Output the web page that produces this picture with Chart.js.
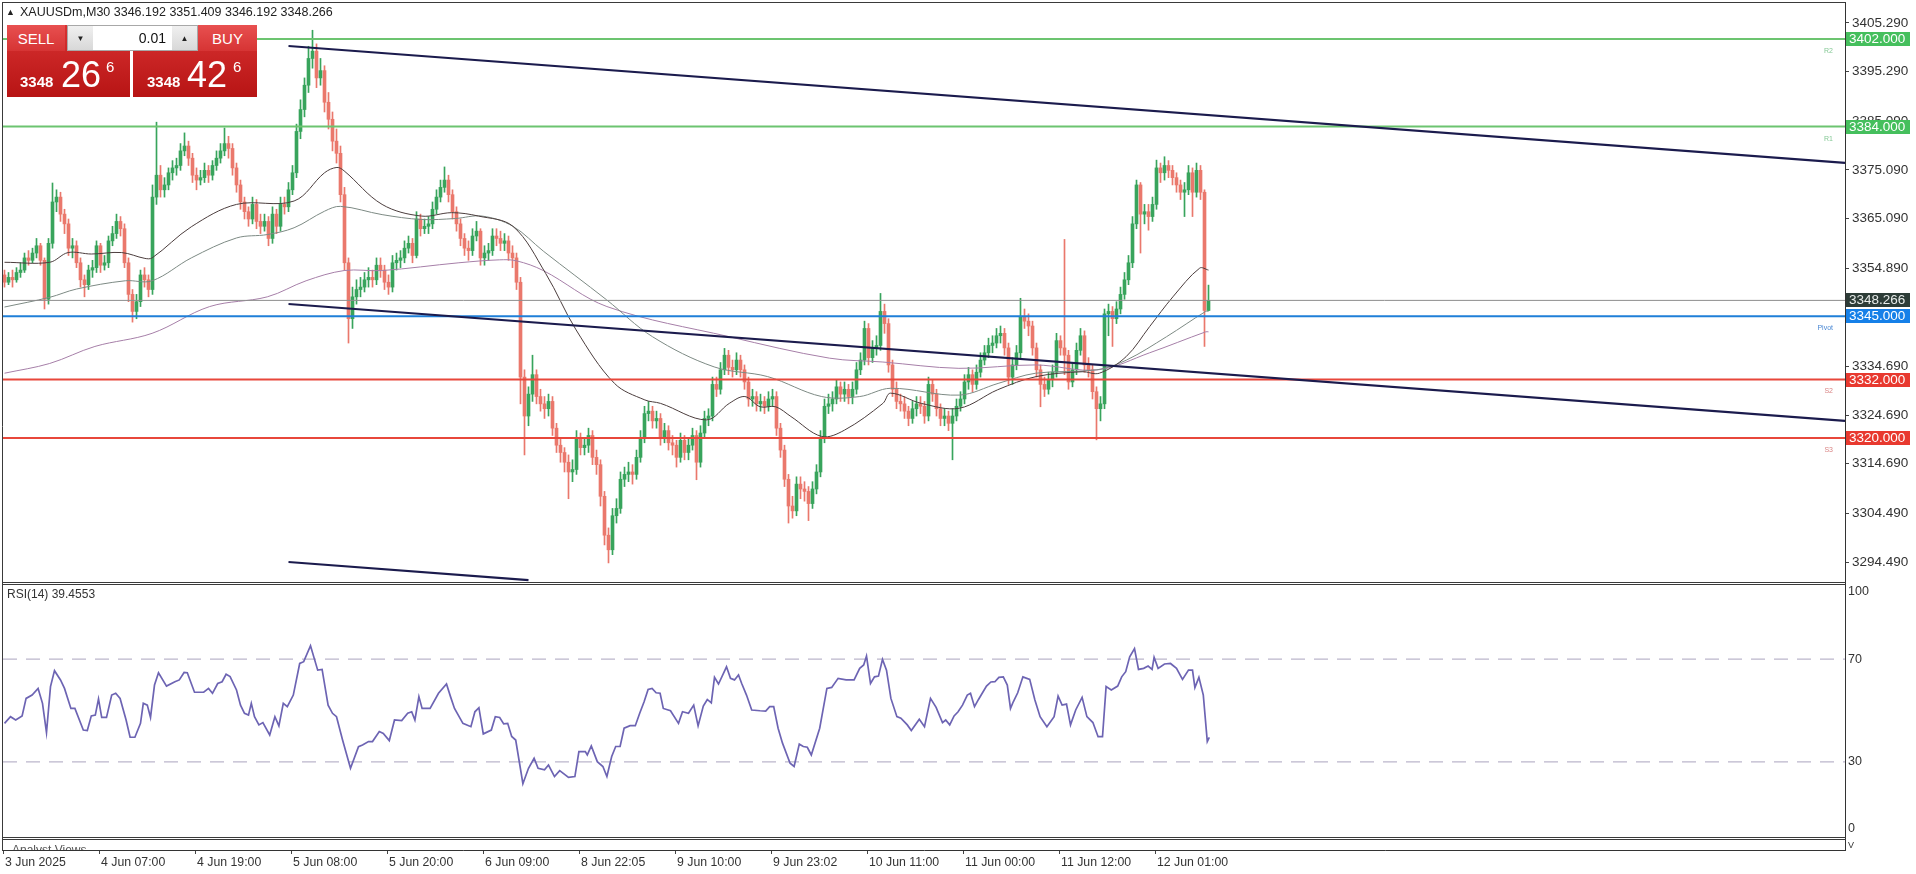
<!DOCTYPE html>
<html>
<head>
<meta charset="utf-8">
<script src="https://cdn.jsdelivr.net/npm/chart.js@4.4.1/dist/chart.umd.min.js"></script>
<style>
html,body{margin:0;padding:0;background:#fff;}
#wrap{position:relative;width:1916px;height:874px;overflow:hidden;font-family:"Liberation Sans",Arial,sans-serif;}
#c{position:absolute;left:0;top:0;width:1916px;height:874px;}
.abs{position:absolute;white-space:nowrap;line-height:1;}
.lab{position:absolute;background:linear-gradient(#e85050,#d63434);color:#fff;font-size:15px;display:flex;align-items:center;justify-content:center;}
.blk{position:absolute;background:linear-gradient(#d83232,#b71414);}
.lot{position:absolute;left:67px;top:25px;width:129px;height:24px;border:1px solid #a8a8a8;background:#fff;}
.btn{position:absolute;top:0;width:25px;height:24px;background:linear-gradient(#f0f0f0,#d8d8d8);font-size:8px;color:#222;display:flex;align-items:center;justify-content:center;}
</style>
</head>
<body>
<div id="wrap">
<canvas id="c" width="1916" height="874"></canvas>
<div class="abs" style="left:6px;top:8px;font-size:9px;color:#222;">▲</div>
<div class="abs" id="hdr" style="left:20px;top:6px;font-size:12.5px;color:#222;"></div>

<div class="blk" style="left:7px;top:25px;width:123px;height:72px;"></div>
<div class="lab" style="left:7px;top:25px;width:58px;height:26px;">SELL</div>
<div class="blk" style="left:133px;top:25px;width:124px;height:72px;"></div>
<div class="lab" style="left:198px;top:25px;width:59px;height:26px;">BUY</div>
<div class="lot">
  <div class="btn" style="left:0;">▼</div>
  <div class="abs" style="left:28px;width:70px;top:5px;text-align:right;font-size:14px;color:#111;">0.01</div>
  <div class="btn" style="left:104px;">▲</div>
</div>
<div class="abs" style="left:20px;top:74px;font-size:15px;font-weight:bold;color:#fff;">3348</div>
<div class="abs" style="left:61px;top:57px;font-size:36px;color:#fff;">26</div>
<div class="abs" style="left:106px;top:59px;font-size:15px;color:#fff;">6</div>
<div class="abs" style="left:147px;top:74px;font-size:15px;font-weight:bold;color:#fff;">3348</div>
<div class="abs" style="left:187px;top:57px;font-size:36px;color:#fff;">42</div>
<div class="abs" style="left:233px;top:59px;font-size:15px;color:#fff;">6</div>

<div class="abs" style="left:7px;top:588px;font-size:12px;color:#333;">RSI(14) 39.4553</div>
<div class="abs" style="left:3px;top:841px;width:1840px;height:9px;overflow:hidden;">
  <div class="abs" style="left:9px;top:3px;font-size:12px;color:#555;">Analyst Views</div>
</div>
</div>

<script>
// ---------------- DATA ----------------
const symbolInfo = "XAUUSDm,M30 3346.192 3351.409 3346.192 3348.266";

const timeLabels = ["3 Jun 2025","4 Jun 07:00","4 Jun 19:00","5 Jun 08:00","5 Jun 20:00","6 Jun 09:00","8 Jun 22:05","9 Jun 10:00","9 Jun 23:02","10 Jun 11:00","11 Jun 00:00","11 Jun 12:00","12 Jun 01:00"];
const timeTickBars = [0,24,48,72,96,120,144,168,192,216,240,264,288];

const priceTicks = [3405.29,3395.29,3385.09,3375.09,3365.09,3354.89,3344.79,3334.69,3324.69,3314.69,3304.49,3294.49];

const opens = [
3353.5,3352.0,3353.0,3352.5,3354.0,3354.5,3357.0,3356.5,3358.0,3359.5,
3356.5,3348.5,3360.0,3368.5,3369.5,3366.0,3364.0,3359.0,3359.5,3356.0,
3352.5,3351.5,3354.5,3355.0,3359.5,3355.5,3356.0,3360.5,3362.0,3364.5,
3363.0,3356.0,3349.5,3346.0,3348.0,3353.5,3352.5,3350.5,3369.5,3374.0,
3371.0,3372.0,3374.5,3375.5,3376.0,3379.0,3380.0,3377.5,3374.0,3373.0,
3373.5,3375.0,3374.0,3376.0,3377.5,3379.0,3380.5,3379.5,3375.5,3372.0,
3368.5,3366.5,3365.0,3368.0,3364.5,3363.5,3364.5,3361.0,3366.0,3363.5,
3368.0,3367.5,3371.0,3374.5,3383.0,3387.5,3392.5,3398.0,3399.5,3394.0,
3395.5,3389.0,3385.5,3381.0,3378.5,3370.0,3356.0,3344.5,3349.0,3350.5,
3351.0,3352.5,3353.0,3352.5,3355.5,3354.5,3352.0,3351.0,3356.0,3356.5,
3357.0,3359.0,3360.0,3357.5,3365.0,3363.0,3363.5,3364.0,3367.0,3369.5,
3371.5,3373.0,3370.0,3366.5,3364.0,3361.0,3359.0,3358.5,3361.5,3362.5,
3357.0,3358.0,3358.5,3361.5,3361.0,3360.0,3360.5,3358.0,3357.0,3352.0,
3332.5,3324.5,3329.0,3333.0,3328.5,3327.0,3326.0,3327.5,3322.0,3318.5,
3317.0,3315.0,3313.0,3313.5,3320.0,3318.0,3318.5,3320.5,3316.0,3314.5,
3308.0,3300.0,3297.0,3304.0,3305.5,3311.5,3312.5,3313.0,3312.5,3316.0,
3320.0,3325.0,3325.5,3323.5,3324.0,3320.0,3321.5,3319.0,3318.5,3316.0,
3319.5,3317.0,3318.5,3320.5,3315.0,3321.0,3324.0,3324.5,3331.0,3330.0,
3334.0,3337.0,3334.5,3334.0,3336.0,3334.0,3331.5,3328.0,3328.5,3327.0,
3327.5,3326.5,3328.0,3328.5,3322.0,3317.5,3311.5,3306.0,3305.0,3310.5,
3309.5,3309.0,3306.5,3309.5,3313.0,3320.0,3326.5,3327.0,3328.0,3330.5,
3329.0,3330.0,3328.5,3330.0,3334.0,3336.0,3342.5,3336.5,3338.5,3339.0,
3346.0,3343.5,3335.0,3330.0,3327.5,3327.0,3325.5,3324.0,3326.0,3327.0,
3326.5,3324.5,3331.0,3329.0,3326.0,3324.0,3324.5,3323.0,3324.5,3326.5,
3328.0,3331.5,3333.0,3331.0,3333.5,3336.0,3337.5,3339.0,3339.5,3341.0,
3341.5,3338.5,3332.5,3335.0,3337.5,3345.0,3344.0,3343.0,3338.5,3334.0,
3331.0,3330.0,3332.0,3333.5,3340.0,3338.5,3337.0,3331.5,3334.0,3338.0,
3341.0,3335.0,3334.0,3329.5,3326.0,3327.0,3345.5,3346.0,3344.5,3346.5,
3349.5,3352.5,3356.0,3364.0,3372.0,3366.0,3366.5,3365.5,3368.0,3375.5,
3374.5,3376.0,3375.0,3373.5,3372.0,3370.5,3371.0,3374.5,3370.5,3375.0,
3370.5,3346.192];

const highs = [
3354.5,3354.0,3354.5,3355.0,3356.0,3358.0,3358.5,3359.0,3361.0,3360.0,
3357.0,3361.0,3372.4,3371.0,3370.5,3367.0,3365.0,3361.0,3360.5,3357.0,
3353.5,3355.5,3356.5,3360.5,3360.0,3357.5,3361.5,3363.5,3366.0,3365.5,
3364.0,3357.0,3350.5,3349.5,3354.5,3355.0,3353.5,3372.0,3384.9,3376.0,
3373.5,3375.5,3377.0,3377.5,3380.5,3382.7,3381.0,3378.5,3375.5,3375.0,
3376.5,3376.0,3377.0,3379.0,3380.5,3383.7,3382.0,3380.5,3376.5,3373.0,
3369.5,3367.5,3369.5,3369.0,3366.0,3366.0,3365.5,3367.5,3367.0,3369.5,
3369.5,3372.5,3376.0,3384.5,3389.5,3394.0,3400.5,3403.8,3401.0,3398.0,
3396.5,3391.0,3387.0,3383.5,3380.0,3371.5,3357.0,3351.0,3352.5,3353.0,
3354.0,3355.0,3354.5,3357.0,3357.0,3355.5,3353.5,3357.5,3358.0,3358.5,
3360.5,3361.5,3361.0,3366.5,3366.0,3365.0,3365.5,3368.5,3371.0,3373.0,
3375.7,3374.0,3371.0,3367.5,3365.0,3362.0,3360.5,3363.0,3364.5,3363.0,
3359.5,3360.0,3363.0,3363.0,3362.5,3362.0,3361.5,3359.5,3358.0,3353.0,
3334.0,3330.5,3337.0,3334.0,3330.0,3328.5,3329.0,3328.5,3323.0,3320.0,
3318.0,3316.5,3315.5,3321.5,3321.0,3320.0,3322.0,3321.5,3317.5,3315.5,
3309.0,3301.5,3305.5,3307.5,3313.0,3314.0,3315.0,3314.5,3317.5,3321.5,
3326.5,3327.5,3326.5,3325.5,3325.0,3323.0,3322.5,3320.5,3319.5,3321.0,
3320.5,3320.0,3322.0,3321.5,3322.5,3325.5,3326.0,3332.5,3332.5,3335.5,
3338.4,3338.0,3336.0,3337.5,3337.0,3335.0,3332.5,3330.0,3329.5,3329.0,
3328.5,3329.5,3330.0,3329.5,3323.0,3318.5,3312.5,3308.0,3312.0,3312.0,
3311.0,3310.0,3311.0,3314.5,3321.5,3328.0,3329.0,3329.5,3332.0,3331.5,
3331.5,3331.0,3331.5,3335.5,3337.5,3344.0,3343.5,3340.0,3341.0,3349.7,
3347.5,3344.5,3336.0,3331.5,3329.0,3328.5,3326.5,3327.5,3328.5,3328.5,
3327.5,3332.5,3332.0,3330.0,3327.0,3326.0,3325.5,3326.0,3328.0,3329.5,
3333.0,3334.5,3334.0,3335.0,3337.5,3339.0,3340.5,3341.0,3342.5,3343.0,
3342.5,3339.5,3336.5,3339.0,3348.7,3346.5,3345.5,3344.0,3339.5,3335.0,
3332.5,3333.5,3335.0,3341.5,3341.0,3360.8,3338.0,3335.5,3339.5,3342.5,
3342.0,3336.5,3335.0,3330.5,3328.5,3346.5,3347.5,3347.0,3348.0,3351.0,
3354.0,3357.5,3365.5,3373.0,3372.5,3368.0,3368.0,3369.5,3377.1,3376.5,
3377.8,3377.0,3376.0,3374.5,3373.0,3372.5,3376.0,3375.5,3376.5,3376.0,
3371.0,3351.409];

const lows = [
3351.0,3351.5,3351.0,3352.0,3353.0,3354.0,3355.5,3356.0,3357.0,3355.5,
3346.5,3347.5,3359.0,3366.5,3364.5,3362.0,3357.5,3357.0,3355.0,3351.0,
3349.0,3350.5,3353.0,3354.0,3354.0,3354.5,3355.0,3359.5,3361.0,3361.5,
3355.0,3348.0,3343.8,3344.5,3347.0,3351.0,3349.0,3349.5,3368.0,3369.5,
3369.5,3371.0,3373.0,3374.0,3375.0,3378.0,3376.0,3372.5,3371.0,3372.0,
3372.5,3372.5,3373.0,3375.0,3376.5,3378.0,3377.5,3374.0,3370.5,3367.0,
3365.0,3363.5,3364.0,3363.0,3362.0,3362.5,3359.5,3360.0,3362.0,3362.5,
3366.0,3366.5,3370.0,3373.5,3381.5,3386.0,3391.0,3396.0,3392.0,3392.5,
3387.0,3383.5,3379.0,3376.5,3368.5,3354.5,3339.5,3342.5,3347.5,3349.0,
3350.0,3351.0,3351.0,3351.5,3353.0,3350.5,3349.5,3350.0,3354.5,3355.0,
3356.0,3358.0,3356.0,3357.0,3361.5,3362.0,3362.0,3363.0,3366.0,3368.5,
3370.5,3368.5,3365.0,3362.5,3359.5,3357.5,3356.5,3357.5,3360.5,3355.5,
3355.5,3356.5,3357.5,3359.5,3358.5,3358.5,3356.5,3355.0,3350.5,3327.0,
3316.5,3322.5,3327.5,3327.0,3325.5,3324.0,3324.5,3320.5,3317.0,3315.0,
3313.0,3307.5,3311.0,3312.5,3316.5,3316.5,3317.0,3314.5,3312.5,3306.0,
3298.0,3294.3,3296.0,3302.5,3304.5,3310.0,3311.0,3310.5,3311.5,3315.0,
3319.0,3323.5,3322.0,3322.0,3318.5,3319.0,3317.5,3316.5,3314.0,3315.0,
3315.5,3315.5,3317.5,3311.4,3314.0,3320.0,3322.5,3323.5,3328.5,3329.0,
3333.0,3333.0,3332.5,3333.0,3332.5,3330.0,3326.5,3326.5,3325.5,3325.5,
3325.0,3325.5,3326.5,3320.5,3316.0,3310.0,3302.5,3303.5,3304.0,3307.5,
3307.0,3303.0,3305.5,3308.5,3312.0,3319.0,3325.0,3325.5,3327.0,3327.5,
3327.5,3327.0,3327.0,3329.0,3333.0,3335.0,3335.0,3335.5,3337.0,3338.0,
3341.5,3333.5,3328.5,3326.0,3325.5,3324.0,3322.5,3323.0,3324.5,3325.0,
3323.0,3323.5,3327.5,3324.5,3322.5,3322.5,3321.5,3315.5,3323.5,3325.5,
3327.0,3330.0,3329.5,3330.0,3332.5,3335.0,3336.5,3337.5,3338.5,3339.5,
3337.0,3331.0,3331.0,3334.0,3336.5,3342.5,3341.0,3337.0,3332.5,3326.4,
3328.5,3329.0,3330.5,3332.5,3337.0,3333.0,3330.0,3330.5,3333.0,3337.0,
3333.5,3332.5,3328.0,3319.6,3323.5,3326.0,3341.0,3338.8,3343.5,3345.5,
3348.5,3351.5,3355.0,3363.0,3358.0,3364.0,3362.7,3364.5,3367.0,3372.5,
3373.0,3373.5,3372.0,3370.5,3369.0,3365.5,3370.0,3365.5,3369.5,3369.0,
3338.8,3346.192];

const closes = [
3352.0,3353.0,3352.5,3354.0,3354.5,3357.0,3356.5,3358.0,3359.5,3356.5,
3348.5,3360.0,3368.5,3369.5,3366.0,3364.0,3359.0,3359.5,3356.0,3352.5,
3351.5,3354.5,3355.0,3359.5,3355.5,3356.0,3360.5,3362.0,3364.5,3363.0,
3356.0,3349.5,3346.0,3348.0,3353.5,3352.5,3350.5,3369.5,3374.0,3371.0,
3372.0,3374.5,3375.5,3376.0,3379.0,3380.0,3377.5,3374.0,3373.0,3373.5,
3375.0,3374.0,3376.0,3377.5,3379.0,3380.5,3379.5,3375.5,3372.0,3368.5,
3366.5,3365.0,3368.0,3364.5,3363.5,3364.5,3361.0,3366.0,3363.5,3368.0,
3367.5,3371.0,3374.5,3383.0,3387.5,3392.5,3398.0,3399.5,3394.0,3395.5,
3389.0,3385.5,3381.0,3378.5,3370.0,3356.0,3344.5,3349.0,3350.5,3351.0,
3352.5,3353.0,3352.5,3355.5,3354.5,3352.0,3351.0,3356.0,3356.5,3357.0,
3359.0,3360.0,3357.5,3365.0,3363.0,3363.5,3364.0,3367.0,3369.5,3371.5,
3373.0,3370.0,3366.5,3364.0,3361.0,3359.0,3358.5,3361.5,3362.5,3357.0,
3358.0,3358.5,3361.5,3361.0,3360.0,3360.5,3358.0,3357.0,3352.0,3332.5,
3324.5,3329.0,3333.0,3328.5,3327.0,3326.0,3327.5,3322.0,3318.5,3317.0,
3315.0,3313.0,3313.5,3320.0,3318.0,3318.5,3320.5,3316.0,3314.5,3308.0,
3300.0,3297.0,3304.0,3305.5,3311.5,3312.5,3313.0,3312.5,3316.0,3320.0,
3325.0,3325.5,3323.5,3324.0,3320.0,3321.5,3319.0,3318.5,3316.0,3319.5,
3317.0,3318.5,3320.5,3315.0,3321.0,3324.0,3324.5,3331.0,3330.0,3334.0,
3337.0,3334.5,3334.0,3336.0,3334.0,3331.5,3328.0,3328.5,3327.0,3327.5,
3326.5,3328.0,3328.5,3322.0,3317.5,3311.5,3306.0,3305.0,3310.5,3309.5,
3309.0,3306.5,3309.5,3313.0,3320.0,3326.5,3327.0,3328.0,3330.5,3329.0,
3330.0,3328.5,3330.0,3334.0,3336.0,3342.5,3336.5,3338.5,3339.0,3346.0,
3343.5,3335.0,3330.0,3327.5,3327.0,3325.5,3324.0,3326.0,3327.0,3326.5,
3324.5,3331.0,3329.0,3326.0,3324.0,3324.5,3323.0,3324.5,3326.5,3328.0,
3331.5,3333.0,3331.0,3333.5,3336.0,3337.5,3339.0,3339.5,3341.0,3341.5,
3338.5,3332.5,3335.0,3337.5,3345.0,3344.0,3343.0,3338.5,3334.0,3331.0,
3330.0,3332.0,3333.5,3340.0,3338.5,3337.0,3331.5,3334.0,3338.0,3341.0,
3335.0,3334.0,3329.5,3326.0,3327.0,3345.5,3346.0,3344.5,3346.5,3349.5,
3352.5,3356.0,3364.0,3372.0,3366.0,3366.5,3365.5,3368.0,3375.5,3374.5,
3376.0,3375.0,3373.5,3372.0,3370.5,3371.0,3374.5,3370.5,3375.0,3370.5,
3346.2,3348.266];

// moving averages (read at sample bars)
const maFastBars = [0,11.3,15.9,21.7,29.3,35.1,36.9,46.7,58,72.4,80,83.1,84.9,94.4,104.2,111.8,118.5,127.1,135.3,142.9,152.5,160.1,164,175.5,181.2,185.1,188.9,192.8,196.6,204.3,210,219.6,221.5,229.2,238.7,248.3,257.9,269.4,273.7,280.4,286.3,292.1,298.8,301];
const maFastVals = [3356.1,3356.1,3358.1,3357.8,3358.1,3356.9,3357.0,3363.4,3368.0,3368.7,3374.5,3375.6,3374.9,3368.0,3365.6,3366.3,3365.6,3363.5,3353.8,3342.2,3331.2,3327.8,3327.1,3323.7,3327.1,3328.5,3326.4,3326.4,3324.4,3320.3,3321.6,3327.1,3329.2,3327.1,3326.1,3329.9,3332.6,3333.6,3333.3,3336.7,3342.9,3349.0,3354.9,3354.5];
const maMidBars = [0,11.3,18,30.2,36.9,46.7,58,65.7,72.4,80,84,94.4,104.2,112.7,119.4,127.1,134.7,150.5,162,177.4,190.8,204.3,213.8,221.5,238.7,248.4,257.8,273.1,280.5,290.5,300.3,301];
const maMidVals = [3346.9,3348.9,3350.6,3352.3,3352.3,3357.0,3361.1,3361.8,3363.2,3366.6,3367.6,3365.9,3364.9,3365.1,3365.6,3363.5,3358.4,3348.4,3340.8,3334.6,3332.6,3328.5,3328.5,3330.2,3328.8,3331.2,3333.3,3334.0,3336.0,3340.8,3346.0,3346.0];
const maSlowBars = [0,11.3,22.6,36.9,51.3,65.7,75.4,84.9,94.4,113.6,123.7,128,134.7,150.6,181.2,206.2,219.6,238.6,257.8,273.4,286.3,300.3,301];
const maSlowVals = [3333.3,3335.3,3338.8,3341.5,3347.0,3349.0,3352.3,3354.4,3354.4,3356.0,3356.6,3356.4,3354.4,3347.0,3340.8,3336.4,3335.6,3334.3,3335.0,3334.0,3337.5,3341.8,3341.8];

// horizontal levels
const levels = [3402, 3384, 3345, 3332, 3320];
const levelNames = ["R2","R1","Pivot","S2","S3"];
const currentPrice = 3348.266;

// channel trend lines
const trendStartBars = [71, 71, 71];
const trendStartPrices = [3400.56, 3347.53, 3294.49];
const trendEndBars = [460.125, 460.125, 131];
const trendEndPrices = [3376.53, 3323.50, 3290.78];

// RSI(14)
const rsiBars = [0,1.5,2.8,4.4,5.4,6.9,8.4,9.5,10.5,11.5,12.5,14,15,16.6,17.6,19.7,20.7,21.7,22.7,23.5,24.3,25.5,26.8,27.8,28.9,30.4,31.4,32.6,34,34.7,35.7,36.5,37.5,38.5,40.5,42.6,43.7,44.9,45.7,47.5,49.8,51,52,53.3,54.4,55.4,56.4,58,59,60,61,61.7,62.5,63.6,64.6,66.3,67.6,68.6,69.7,70.7,72.2,73.8,74.8,76.5,78.3,79.4,80.9,82,83,84.5,86.5,88.5,89.5,91,92,93.7,94.7,96.2,97.5,99.3,100.8,101.8,102.6,103.6,104.4,106.4,108.5,110.5,111.5,112.5,114.6,116.6,117.6,118.6,119.7,121.7,122.7,123.8,124.8,125.8,126.8,127.8,129.6,131,132.4,133.4,135,136,137.5,138.8,141,142.6,143.6,145.2,145.7,146.7,148.2,149.6,150.6,151.8,152.8,153.9,154.9,156.4,157.7,158.8,159.9,160.9,161.9,162.9,163.9,164.7,166.5,168.5,169.5,171,172.3,173.4,174.7,175.7,176.7,177.5,178.5,180.5,181.5,182.5,183.5,184.3,185.5,186.8,188.9,190.3,191.3,192.3,193.4,194.5,196.4,197.4,198.7,199.7,200.7,201.7,203.8,205.6,206.8,208.4,210.4,212.4,213.8,214.8,215.5,216.5,217.5,218.5,219.5,220.5,221.6,223.1,224.1,225.7,226.7,228.7,230,231.5,232.9,234.5,235.3,236.3,237.4,238.4,239.5,240.7,241.5,242.5,243.5,244.5,245.5,246.6,247.6,248.6,249.7,250.7,251.5,252.2,253.3,254.6,256.3,257.6,258.9,260.6,262.4,263.4,264.4,265.5,266.5,267.8,269.4,270.6,272.1,273.4,274.5,275.4,276.7,278.3,279.3,280.3,281.3,282.5,283.5,284.8,285.9,286.9,287.4,288.4,290,291.5,293,294.5,296,297,297.6,298.6,299.7,300.7,301.2];
const rsiValues = [45.0,47.6,46.3,47.9,54.7,56.0,58.6,52.8,41.4,59.3,65.5,61.9,58.6,50.8,50.8,42.4,42.2,47.9,48.2,54.5,47.3,47.3,56.0,56.7,54.7,46.3,39.6,39.6,45.0,52.8,52.1,47.3,59.9,64.7,59.5,61.2,61.9,64.8,64.7,57.1,57.1,58.6,56.7,60.5,61.2,64.1,63.2,58.0,52.1,48.9,48.2,52.8,47.6,44.4,45.3,40.5,47.6,44.0,52.8,51.5,56.0,68.3,69.0,75.2,65.7,66.0,52.1,48.9,47.6,38.6,27.5,35.9,36.6,37.9,37.9,41.8,41.1,38.3,46.3,46.1,48.9,49.5,46.3,55.4,50.8,50.8,56.7,60.3,55.4,50.8,45.0,43.7,49.5,51.1,40.9,42.4,47.6,47.3,44.8,45.0,39.9,38.5,21.5,27.5,31.4,27.5,26.9,28.8,24.3,26.6,24.0,24.3,34.0,34.0,32.7,36.2,30.1,28.2,24.3,32.1,36.0,36.0,43.1,44.1,44.1,48.9,53.4,58.2,58.6,56.9,56.7,50.8,49.9,45.0,49.5,48.9,52.1,44.0,51.7,54.3,53.0,62.9,60.3,67.0,62.5,61.9,63.8,60.5,56.0,50.2,49.9,49.8,51.5,51.5,43.1,37.3,29.5,28.2,36.9,36.0,35.7,32.7,43.1,58.6,59.0,62.5,61.9,61.9,66.4,67.7,71.2,60.5,63.1,63.4,69.9,65.7,54.7,47.6,47.0,44.4,42.2,46.6,43.7,54.7,51.2,45.3,46.3,44.4,47.9,49.5,52.1,56.0,56.7,51.5,54.3,56.9,59.5,61.1,61.2,62.9,63.1,59.9,50.8,53.4,56.9,63.1,62.1,54.1,47.6,43.7,47.6,55.6,52.1,52.5,44.4,50.2,55.1,47.6,45.3,39.8,39.8,59.3,58.0,59.5,63.1,65.1,70.9,74.1,66.0,66.4,67.3,66.0,70.7,66.4,68.1,68.3,66.4,62.1,65.7,65.7,58.9,62.9,56.0,37.9,39.5];
const rsiLevels = [70, 30];
const rsiAxisLabels = [100, 70, 30, 0];

// ---------------- CHART ----------------
document.getElementById('hdr').textContent = symbolInfo;
Chart.defaults.font.family = "'Liberation Sans', Arial, sans-serif";

const X_MIN = -0.375, X_MAX = 460.125;
const bull = '#38a45c', bear = '#ea786c';
const candleColors = closes.map((c, i) => c >= opens[i] ? bull : bear);
const pts = (xs, ys) => xs.map((x, i) => ({x, y: ys[i]}));
const levelColors = ['#6cc470', '#6cc470', '#1f7fd8', '#e8473b', '#e8473b'];
const boxColors = ['#45bf5d', '#45bf5d', '#1680e8', '#e8392f', '#e8392f'];
const nameColors = ['#86c996', '#86c996', '#4a88d4', '#d98585', '#d98585'];

const datasets = [];
datasets.push({type:'bar', data: closes.map((c,i)=>({x:i, y:[lows[i], highs[i]]})), backgroundColor: candleColors, barThickness:1, grouped:false, yAxisID:'y', order:20});
datasets.push({type:'bar', data: closes.map((c,i)=>({x:i, y:[opens[i], c]})), backgroundColor: candleColors, barThickness:3, minBarLength:1, grouped:false, yAxisID:'y', order:19});
const lineBase = {type:'line', pointRadius:0, fill:false, yAxisID:'y'};
datasets.push({...lineBase, data: pts(maSlowBars, maSlowVals), borderColor:'#a67fa8', borderWidth:1, tension:0.35, order:16});
datasets.push({...lineBase, data: pts(maMidBars, maMidVals), borderColor:'#7d8a84', borderWidth:1, tension:0.35, order:15});
datasets.push({...lineBase, data: pts(maFastBars, maFastVals), borderColor:'#4b3d3d', borderWidth:1, tension:0.35, order:14});
datasets.push({...lineBase, data: [{x:X_MIN, y:currentPrice},{x:X_MAX, y:currentPrice}], borderColor:'#8d8d8d', borderWidth:1, order:12});
levels.forEach((lv, k) => datasets.push({...lineBase, data: [{x:X_MIN, y:lv},{x:X_MAX, y:lv}], borderColor: levelColors[k], borderWidth:2, order:11}));
trendStartBars.forEach((b, k) => datasets.push({...lineBase, data: [{x:b, y:trendStartPrices[k]},{x:trendEndBars[k], y:trendEndPrices[k]}], borderColor:'#1b1b4d', borderWidth:2.2, order:10}));
rsiLevels.forEach(lv => datasets.push({...lineBase, yAxisID:'yr', data: [{x:X_MIN, y:lv},{x:X_MAX, y:lv}], borderColor:'#bcb6cc', borderWidth:1.3, borderDash:[14,9], order:6}));
datasets.push({...lineBase, yAxisID:'yr', data: pts(rsiBars, rsiValues), borderColor:'#6d64b3', borderWidth:1.7, order:5});

const noPad = s => { s.paddingTop = 0; s.paddingBottom = 0; s.paddingLeft = 0; s.paddingRight = 0; };

const decor = {
  id: 'decor',
  afterDraw(chart) {
    const ctx = chart.ctx, ys = chart.scales.y, yr = chart.scales.yr;
    ctx.save();
    ctx.strokeStyle = '#3a3a3a';
    ctx.lineWidth = 1;
    const hl = (x1, x2, y) => { ctx.beginPath(); ctx.moveTo(x1, y); ctx.lineTo(x2, y); ctx.stroke(); };
    hl(2, 1846, 2.5);
    ctx.beginPath(); ctx.moveTo(2.5, 2); ctx.lineTo(2.5, 851); ctx.stroke();
    hl(2, 1846, 582.5); hl(2, 1846, 584.5);
    hl(2, 1846, 837.5); hl(2, 1846, 839.5);

    // level name tags
    ctx.font = "7px 'Liberation Sans', Arial";
    ctx.textAlign = 'right'; ctx.textBaseline = 'middle';
    levels.forEach((lv, k) => {
      ctx.fillStyle = nameColors[k];
      ctx.fillText(levelNames[k], 1833, ys.getPixelForValue(lv) + 12);
    });

    // axis boxes
    ctx.font = "13.5px 'Liberation Sans', Arial";
    ctx.textAlign = 'left';
    const box = (val, bg, fg) => {
      const y = Math.round(ys.getPixelForValue(val));
      ctx.fillStyle = bg; ctx.fillRect(1846, y - 7, 64, 14);
      ctx.fillStyle = fg; ctx.fillText(val.toFixed(3), 1849, y + 0.5);
    };
    levels.forEach((lv, k) => box(lv, boxColors[k], '#ffffff'));
    box(currentPrice, '#2d3c37', '#e8ecea');

    // RSI axis labels
    ctx.font = "12.5px 'Liberation Sans', Arial";
    ctx.fillStyle = '#333';
    rsiAxisLabels.forEach(v => {
      let y = yr.getPixelForValue(v);
      if (v === 100) y += 10;
      if (v === 0) y -= 10;
      ctx.fillText(String(v), 1848, y);
    });
    ctx.font = "9px 'Liberation Sans', Arial";
    ctx.fillText('V', 1848, 846);
    ctx.restore();
  }
};

new Chart(document.getElementById('c'), {
  type: 'bar',
  data: { datasets },
  options: {
    responsive: false,
    animation: false,
    devicePixelRatio: 1,
    events: [],
    layout: { padding: { top: 3, left: 3, right: 0, bottom: 0 } },
    plugins: { legend: { display: false }, tooltip: { enabled: false } },
    scales: {
      x: {
        type: 'linear', position: 'bottom', min: X_MIN, max: X_MAX, offset: false,
        afterBuildTicks: s => { s.ticks = timeTickBars.map(b => ({ value: b + X_MIN })); },
        afterFit: s => { s.height = 24; noPad(s); },
        ticks: { autoSkip: false, maxRotation: 0, minRotation: 0, align: 'start', labelOffset: 2, padding: 1,
                 color: '#333', font: { size: 12.3 }, callback: (v, i) => timeLabels[i] },
        grid: { drawOnChartArea: false, drawTicks: true, tickLength: 4, color: '#444', offset: false },
        border: { display: true, color: '#333' }
      },
      y: {
        type: 'linear', position: 'right', stack: 'panes', stackWeight: 579, min: 3290.38, max: 3409.40,
        afterBuildTicks: s => { s.ticks = priceTicks.map(v => ({ value: v })); },
        afterFit: s => { s.width = 71; noPad(s); },
        ticks: { autoSkip: false, padding: 3, color: '#333', font: { size: 13.5 }, callback: v => v.toFixed(3) },
        grid: { drawOnChartArea: false, drawTicks: true, tickLength: 4, color: '#444' },
        border: { display: true, color: '#333' }
      },
      yr: {
        type: 'linear', position: 'right', stack: 'panes', stackWeight: 257, min: 0, max: 100,
        afterFit: s => { s.width = 71; noPad(s); },
        ticks: { display: false }, grid: { display: false },
        border: { display: true, color: '#333' }
      },
      ya: {
        type: 'linear', position: 'right', stack: 'panes', stackWeight: 11, min: 0, max: 1,
        afterFit: s => { s.width = 71; noPad(s); },
        ticks: { display: false }, grid: { display: false },
        border: { display: true, color: '#333' }
      }
    }
  },
  plugins: [decor]
});
</script>
</body>
</html>
